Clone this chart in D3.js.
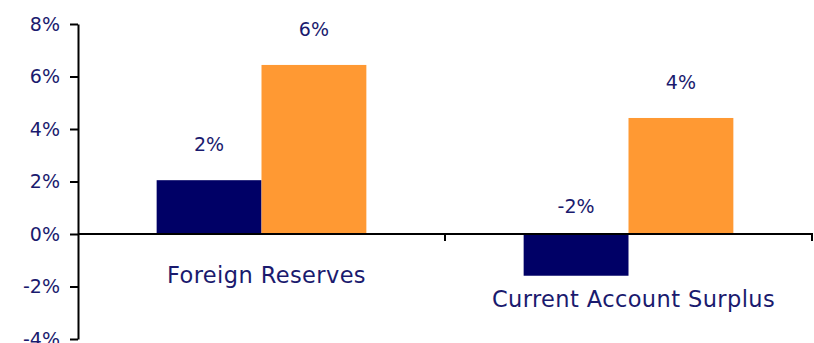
<!DOCTYPE html>
<html><head><meta charset="utf-8">
<script src="https://cdn.jsdelivr.net/npm/d3@7"></script>
<style>body{margin:0;background:#fff}text{font-family:"DejaVu Sans",Verdana,sans-serif}</style>
</head><body>
<svg id="c" width="814" height="343"></svg>
<script>
const categories = ["Foreign Reserves", "Current Account Surplus"];
const seriesNames = ["Series A", "Series B"];
const seriesA = [0.0205, -0.0159];
const seriesB = [0.0644, 0.0442];
const yTicks = [-0.04, -0.02, 0, 0.02, 0.04, 0.06, 0.08];
const colors = ["#000066", "#FF9933"];
const textColor = "#1a1a6e";

(function(){
const svg = d3.select("#c");
const mLeft = 78, mRight = 813, mTop = 24, mBottom = 339;
const fmt = v => d3.format(".0%")(v).replace("\u2212", "-");
const y = d3.scaleLinear().domain([-0.04, 0.08]).range([mBottom, mTop]);
const x0 = d3.scaleBand().domain(categories).range([mLeft, mRight - 1]).padding(0);
const x1 = d3.scaleBand().domain(seriesNames).range([0, x0.bandwidth()]).paddingInner(0).paddingOuter(0.75);

const data = categories.map((c, i) => ({c, vals: [seriesA[i], seriesB[i]]}));

const g = svg.append("g");
data.forEach(d => {
  d.vals.forEach((v, j) => {
    const xs = x0(d.c) + x1(seriesNames[j]);
    g.append("rect")
      .attr("x", xs).attr("width", x1.bandwidth())
      .attr("y", y(Math.max(v, 0))).attr("height", Math.abs(y(v) - y(0)))
      .attr("fill", colors[j]);
    g.append("text")
      .attr("x", xs + x1.bandwidth() / 2)
      .attr("y", y(Math.max(v, 0)) - (v < 0 ? 21 : 29))
      .attr("text-anchor", "middle")
      .attr("font-size", 19).attr("fill", textColor)
      .text(fmt(v));
  });
});

const yAxis = d3.axisLeft(y).tickValues(yTicks).tickFormat(fmt).tickSize(8).tickSizeOuter(0);
const ya = svg.append("g").attr("transform", `translate(${mLeft},0)`).call(yAxis);
ya.select(".domain").attr("stroke", "#000").attr("stroke-width", 2);
ya.selectAll(".tick line").attr("stroke", "#000").attr("stroke-width", 2);
ya.selectAll(".tick text").attr("font-size", 19).attr("fill", textColor)
  .attr("font-family", "DejaVu Sans").attr("x", -18);

const xa = svg.append("g");
xa.append("line").attr("x1", mLeft).attr("x2", mRight).attr("y1", y(0)).attr("y2", y(0))
  .attr("stroke", "#000").attr("stroke-width", 2);
categories.forEach((c, i) => {
  const xe = x0(c) + x0.bandwidth();
  xa.append("line").attr("x1", xe).attr("x2", xe).attr("y1", y(0)).attr("y2", y(0) + 7)
    .attr("stroke", "#000").attr("stroke-width", 2);
  xa.append("text")
    .attr("x", x0(c) + x0.bandwidth() / 2 + 5)
    .attr("y", y(0) + (i === 0 ? 49 : 73))
    .attr("text-anchor", "middle").attr("font-size", 22.5).attr("fill", textColor)
    .attr("letter-spacing", 0.4)
    .text(c);
});
})();
</script>
</body></html>
